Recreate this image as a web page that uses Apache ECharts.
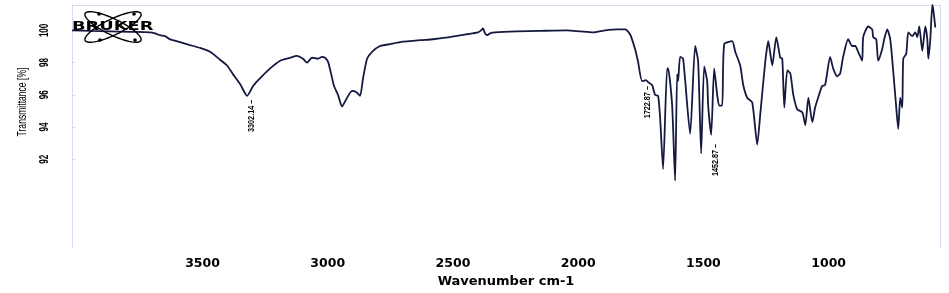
<!DOCTYPE html>
<html><head><meta charset="utf-8">
<script src="https://cdn.jsdelivr.net/npm/echarts@6/dist/echarts.min.js"></script>
<style>html,body{margin:0;padding:0;background:#fff}#c{width:949px;height:293px}</style>
</head><body><div id="c"></div>
<script>
// Wavenumber (cm-1), high to low
const wavenumbers = [
  4021,3949,3869,3790,3710,3690,3670,3650,3630,3618,
  3590,3550,3510,3470,3430,3402,3378,3350,3322,3298,
  3270,3230,3190,3151,3123,3099,3083,3063,3039,3023,
  3011,2999,2987,2975,2959,2943,2927,2903,2887,2871,
  2859,2843,2823,2791,2751,2711,2631,2580,2512,2443,
  2400,2388,2380,2372,2364,2352,2332,2244,2152,2044,
  1992,1940,1892,1844,1812,1793,1773,1761,1745,1729,
  1721,1705,1693,1681,1673,1661,1645,1641,1625,1613,
  1605,1601,1593,1581,1553,1533,1521,1509,1497,1485,
  1481,1469,1457,1445,1437,1425,1417,1385,1373,1353,
  1341,1325,1305,1285,1273,1253,1241,1225,1209,1193,
  1185,1177,1165,1153,1141,1125,1105,1093,1081,1065,
  1054,1042,1026,1014,994,982,966,954,942,922,
  906,894,882,866,862,842,826,822,810,802,
  786,778,766,754,742,730,722,714,706,702,
  690,682,666,654,646,638,626,614,606,602,
  594,586,582,574
];
// Transmittance (%) at each wavenumber
const transmittance = [
  100.00,99.97,99.94,99.91,99.88,99.82,99.70,99.64,99.45,99.39,
  99.27,99.09,98.91,98.67,98.18,97.82,97.27,96.67,95.94,96.55,
  97.03,97.64,98.12,98.30,98.42,98.24,98.00,98.30,98.24,98.36,
  98.30,98.06,97.33,96.55,96.00,95.27,95.70,96.24,96.18,95.94,
  97.03,98.24,98.67,99.03,99.15,99.27,99.39,99.45,99.58,99.76,
  99.88,100.00,100.12,99.82,99.70,99.82,99.88,99.94,99.97,100.00,
  99.94,99.88,100.00,100.06,100.06,99.76,98.85,98.06,96.85,96.91,
  96.79,96.61,96.00,95.94,94.61,91.39,97.64,97.64,95.39,90.67,
  97.27,96.85,98.36,98.24,93.58,99.03,98.06,92.36,97.76,96.85,
  95.33,93.52,97.64,96.00,95.33,95.33,99.15,99.33,98.67,97.82,
  96.61,95.82,95.52,92.91,94.79,98.06,99.33,97.82,99.58,98.30,
  98.24,95.21,97.52,97.33,96.00,95.09,94.91,94.12,95.82,94.30,
  95.21,95.82,96.55,96.61,98.36,97.64,97.15,97.33,98.36,99.45,
  99.03,99.03,98.67,98.12,99.58,100.24,100.06,99.58,99.45,98.12,
  98.85,99.45,100.06,99.45,97.45,95.21,93.88,95.82,95.21,98.24,
  98.55,99.88,99.64,99.88,99.58,100.24,98.73,100.24,99.45,98.24,
  99.45,101.58,101.27,100.18
];
const xTicks = [1000,1500,2000,2500,3000,3500];
const yTicks = [92,94,96,98,100];
const peakWn = [3302.14, 1722.87, 1452.87];
const peakT = [95.94, 96.79, 93.2];

const X_MIN = 555.3, X_MAX = 4021.2, Y_MIN = 86.485, Y_MAX = 101.576;
const frameColor = '#cdd0ee';
const sans = '"Liberation Sans",Arial,sans-serif';

const chart = echarts.init(document.getElementById('c'), null, {renderer: 'canvas'});
const seriesData = wavenumbers.map((w, i) => [w, transmittance[i]]);

chart.setOption({
  animation: false,
  backgroundColor: '#fff',
  grid: {left: 72, right: 9, top: 5, bottom: 39},
  xAxis: [{
    type: 'value', inverse: true, min: X_MIN, max: X_MAX, position: 'bottom',
    axisLine: {show: false}, axisTick: {show: false}, splitLine: {show: false},
    axisLabel: {customValues: xTicks, margin: 9, color: '#000', fontFamily: 'DejaVu Sans', fontWeight: 'bold', fontSize: 12.5,
      formatter: v => String(Math.round(v))},
    name: 'Wavenumber cm-1', nameLocation: 'middle', nameGap: 22,
    nameTextStyle: {color: '#000', fontFamily: 'DejaVu Sans', fontWeight: 'bold', fontSize: 13}
  }, {
    type: 'value', inverse: true, min: X_MIN, max: X_MAX, position: 'top',
    axisLine: {show: true, lineStyle: {color: frameColor, type: 'dotted', width: 1}},
    axisTick: {show: false}, axisLabel: {show: false}, splitLine: {show: false}
  }],
  yAxis: [{
    type: 'value', min: Y_MIN, max: Y_MAX, position: 'left',
    axisLine: {show: true, lineStyle: {color: frameColor, type: 'dotted', width: 1}},
    axisTick: {show: true, customValues: yTicks, length: 3, inside: true, lineStyle: {color: frameColor}},
    splitLine: {show: false},
    axisLabel: {show: false}
  }, {
    type: 'value', min: Y_MIN, max: Y_MAX, position: 'right',
    axisLine: {show: true, lineStyle: {color: frameColor, type: 'dotted', width: 1}},
    axisTick: {show: false}, axisLabel: {show: false}, splitLine: {show: false}
  }],
  series: [{
    type: 'line', xAxisIndex: 0, yAxisIndex: 0, data: seriesData,
    symbol: 'none', showSymbol: false, smooth: 0.2, clip: false,
    lineStyle: {color: '#151940', width: 1.8}
  }]
});

function ell(cx, cy, a, b, ang) {
  const pts = [];
  for (let k = 0; k <= 60; k++) {
    const t = k / 60 * 2 * Math.PI;
    const x = a * Math.cos(t), y = b * Math.sin(t);
    pts.push([cx + x * Math.cos(ang) - y * Math.sin(ang), cy + x * Math.sin(ang) + y * Math.cos(ang)]);
  }
  return pts;
}

const graphics = [];
// Bruker logo
graphics.push({type: 'polyline', shape: {points: ell(113, 27, 31, 8, 0.45)}, style: {stroke: '#000', lineWidth: 1.4, fill: null}, z: 10});
graphics.push({type: 'polyline', shape: {points: ell(113, 27, 31, 8, -0.45)}, style: {stroke: '#000', lineWidth: 1.4, fill: null}, z: 10});
[[99, 14], [134, 14], [100, 40], [135, 40]].forEach(p => graphics.push({type: 'circle', shape: {cx: p[0], cy: p[1], r: 1.8}, style: {fill: '#000'}, z: 11}));
graphics.push({type: 'text', x: 72, y: 27, scaleX: 1.37, z: 12,
  style: {text: 'BRUKER', font: 'bold 13px "DejaVu Sans"', fill: '#000', align: 'left', verticalAlign: 'middle'}});
// Y axis title (condensed along its length)
graphics.push({type: 'text', x: 22, y: 102, rotation: Math.PI / 2, scaleX: 0.66, z: 12,
  style: {text: 'Transmittance [%]', font: '13px ' + sans, fill: '#000', align: 'center', verticalAlign: 'middle'}});
// Y tick labels placed through the y scale
yTicks.forEach(v => {
  const p = chart.convertToPixel({yAxisIndex: 0}, v);
  graphics.push({type: 'text', x: 44, y: p, rotation: Math.PI / 2, scaleX: 0.62, z: 12,
    style: {text: String(v), font: 'bold 13px ' + sans, fill: '#000', align: 'center', verticalAlign: 'middle'}});
});
// Peak labels
peakWn.forEach((w, i) => {
  const p = chart.convertToPixel({seriesIndex: 0}, [w, peakT[i]]);
  graphics.push({type: 'text', x: p[0], y: p[1] + 4, rotation: Math.PI / 2, scaleX: 0.85, z: 12,
    style: {text: w.toFixed(2) + ' \u2013', font: 'bold 8.5px ' + sans, fill: '#000', align: 'right', verticalAlign: 'middle'}});
});
chart.setOption({graphic: graphics});
</script>
</body></html>
